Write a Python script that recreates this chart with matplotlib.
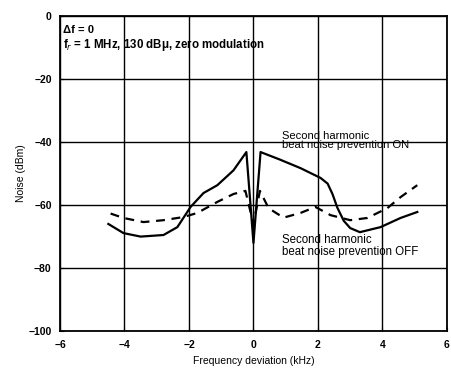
import matplotlib.pyplot as plt

# second harmonic beat noise prevention ON (solid)
on_x = [-4.5, -4.03, -3.5, -2.79, -2.36, -1.95, -1.55, -1.12, -0.62, -0.22,
        0.0, 0.22, 0.8, 1.46, 2.08, 2.3, 2.45, 2.6, 2.8, 3.0, 3.3, 3.94, 4.56, 5.08]
on_y = [-66.0, -68.9, -70.0, -69.5, -67.0, -60.6, -56.2, -53.7, -49.0, -43.2,
        -72.0, -43.2, -45.5, -48.3, -51.4, -53.2, -56.5, -60.8, -65.0, -67.3, -68.6, -67.0, -64.1, -62.2]

# second harmonic beat noise prevention OFF (dashed)
off_x = [-4.43, -4.03, -3.41, -2.79, -2.17, -1.74, -1.12, -0.62, -0.25,
         0.0, 0.2, 0.47, 0.93, 1.46, 1.92, 2.39, 3.0, 3.53, 4.15, 4.56, 5.08]
off_y = [-62.7, -64.1, -65.4, -64.8, -63.8, -62.5, -59.0, -56.5, -55.5,
         -66.0, -55.5, -61.0, -64.0, -62.5, -60.6, -63.2, -64.8, -64.1, -61.0, -57.5, -53.7]

xticks = [-6, -4, -2, 0, 2, 4, 6]
yticks = [0, -20, -40, -60, -80, -100]

plt.rcParams['font.family'] = ['Liberation Sans', 'DejaVu Sans']

fig = plt.figure(figsize=(4.51, 3.68), dpi=100)
ax = fig.add_axes([0.133, 0.1, 0.858, 0.857])

ax.plot(on_x, on_y, color='black', lw=1.6)
ax.plot(off_x, off_y, color='black', lw=1.6, ls=(0, (4, 3)))

ax.set_xlim(-6, 6)
ax.set_ylim(-100, 0)
ax.set_xticks(xticks)
ax.set_yticks(yticks)
ax.set_xticklabels(['\u22126', '\u22124', '\u22122', '0', '2', '4', '6'], fontweight='bold')
ax.set_yticklabels(['0', '\u221220', '\u221240', '\u221260', '\u221280', '\u2212100'], fontweight='bold')
ax.tick_params(direction='in', length=3, labelsize=7.5, pad=6)
ax.grid(True, color='black', lw=1.0)
for s in ax.spines.values():
    s.set_linewidth(1.3)

ax.set_xlabel('Frequency deviation (kHz)', fontsize=7.5, labelpad=5)
ax.set_ylabel('Noise (dBm)', fontsize=7.5, labelpad=2)

ax.text(-5.9, -2.8, '\u0394f = 0', fontsize=8, fontweight='bold', va='top')
ax.text(-5.9, -6.6, 'f$_r$ = 1 MHz, 130 dB\u03bc, zero modulation', fontsize=8.3,
        fontweight='bold', va='top')
ax.text(0.9, -39.5, 'Second harmonic\nbeat noise prevention ON', fontsize=8,
        va='center', linespacing=0.95)
ax.text(0.9, -73.0, 'Second harmonic\nbeat noise prevention OFF', fontsize=8.3,
        va='center', linespacing=0.95)

fig.savefig('out.png', dpi=100)
